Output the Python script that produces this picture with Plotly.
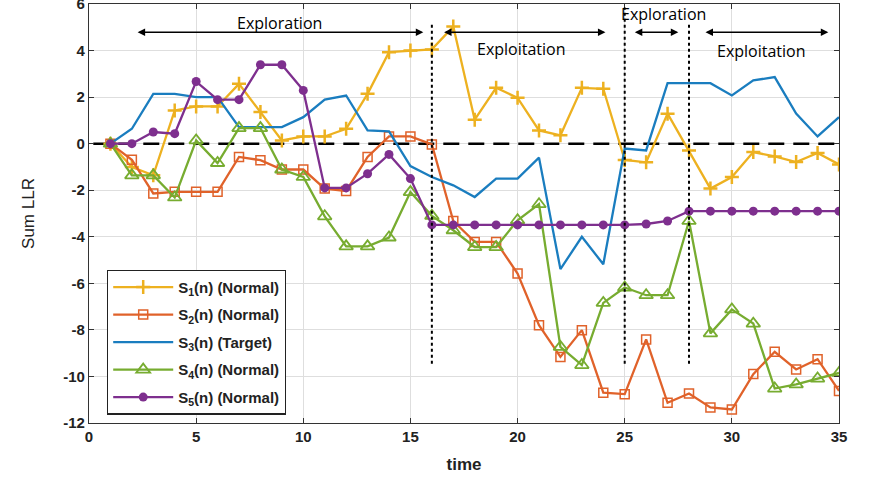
import plotly.graph_objects as go

t = list(range(1, 36))

s1 = [0, -1.0, -1.36, 1.43, 1.6, 1.6, 2.57, 1.36, 0.14, 0.31, 0.31, 0.64, 2.14, 3.93, 4.0, 4.05, 5.03,
      1.03, 2.4, 1.97, 0.57, 0.36, 2.4, 2.36, -0.7, -0.8, 1.29, -0.29, -1.93, -1.43, -0.36, -0.55, -0.79, -0.4, -0.89]
s2 = [0, -0.69, -2.14, -2.07, -2.07, -2.07, -0.57, -0.71, -1.11, -1.11, -1.93, -2.03, -0.57, 0.31, 0.31, -0.03,
      -3.32, -4.22, -4.22, -5.58, -7.8, -9.16, -8.01, -10.7, -10.76, -8.41, -11.13, -10.73, -11.33, -11.42, -9.9,
      -8.94, -9.7, -9.26, -10.62]
s3 = [0, 0.64, 2.14, 2.14, 2.0, 2.0, 0.71, 0.71, 0.71, 1.14, 1.89, 2.07, 0.57, 0.53, -0.96, -1.43, -1.79,
      -2.29, -1.5, -1.5, -0.6, -5.39, -4.0, -5.18, -0.21, -0.29, 2.6, 2.6, 2.6, 2.07, 2.72, 2.86, 1.29, 0.31, 1.14]
s4 = [0, -1.36, -1.36, -2.31, 0.14, -0.83, 0.67, 0.67, -1.11, -1.43, -3.12, -4.41, -4.41, -4.03, -2.08, -3.1,
      -3.72, -4.44, -4.44, -3.29, -2.6, -8.73, -9.51, -6.84, -6.18, -6.51, -6.51, -3.32, -8.15, -7.12, -7.73,
      -10.52, -10.34, -10.09, -9.85]
s5 = [0, 0, 0.5, 0.43, 2.67, 1.89, 1.89, 3.39, 3.39, 2.29, -1.9, -1.9, -1.29, -0.46, -1.5, -3.49, -3.49,
      -3.49, -3.49, -3.49, -3.49, -3.49, -3.49, -3.49, -3.49, -3.45, -3.32, -2.9, -2.9, -2.9, -2.9, -2.9,
      -2.9, -2.9, -2.9]

names = ["<b>S<sub>1</sub>(n) (Normal)</b>", "<b>S<sub>2</sub>(n) (Normal)</b>", "<b>S<sub>3</sub>(n) (Target)</b>",
         "<b>S<sub>4</sub>(n) (Normal)</b>", "<b>S<sub>5</sub>(n) (Normal)</b>"]
colors = ["#EDB120", "#E0622A", "#1A7DBF", "#77AC30", "#7E2F8E"]

x_ticks = [0, 5, 10, 15, 20, 25, 30, 35]
y_ticks = list(range(-12, 7, 2))

phase_x = [16, 25, 28]
arrows = [(2.2, 15.6), (16.5, 24.1), (25.4, 27.5), (28.7, 34.5)]
labels = [("Exploration", 8.9, 5.2), ("Exploitation", 20.2, 4.08), ("Exploration", 26.8, 5.58), ("Exploitation", 31.4, 4.0)]

fig = go.Figure()

# zero dashed line
fig.add_trace(go.Scatter(x=[0.2, 35], y=[0, 0], mode="lines", showlegend=False,
                         line=dict(color="black", width=2.5, dash="16px,9px"), hoverinfo="skip"))

series = [s1, s2, s3, s4, s5]
markers = [
    dict(symbol="cross-thin-open", size=10, line=dict(width=2.5, color=colors[0]), color=colors[0]),
    dict(symbol="square-open", size=9, line=dict(width=1.5, color=colors[1]), color=colors[1]),
    dict(symbol="circle", size=2, color=colors[2]),
    dict(symbol="triangle-up-open", size=12, line=dict(width=1.8, color=colors[3]), color=colors[3]),
    dict(symbol="circle", size=9, color=colors[4]),
]
for i, (ys, nm) in enumerate(zip(series, names)):
    fig.add_trace(go.Scatter(x=t, y=ys, name=nm, mode="lines+markers" if i != 2 else "lines",
                             line=dict(color=colors[i], width=2.3), marker=markers[i],
                             legendgroup=str(i)))

shapes = []
for px in phase_x:
    shapes.append(dict(type="line", xref="x", yref="y", x0=px, x1=px,
                       y0=-9.45, y1=(5.85 if px == 25 else 5.15),
                       line=dict(color="black", width=2, dash="dot")))

annotations = []
for (a, b) in arrows:
    annotations.append(dict(x=b, y=4.79, ax=a, ay=4.79, xref="x", yref="y", axref="x", ayref="y",
                            showarrow=True, arrowhead=2, arrowside="end+start", arrowwidth=1.5,
                            arrowsize=1, arrowcolor="black", text="", standoff=0, startstandoff=0))
for (txt, lx, ly) in labels:
    annotations.append(dict(x=lx, y=ly, xref="x", yref="y", text=txt, showarrow=False,
                            font=dict(family="Open Sans", size=16, color="black")))

fig.update_layout(
    width=887, height=484,
    margin=dict(l=89, r=48, t=4, b=61),
    paper_bgcolor="white", plot_bgcolor="white",
    shapes=shapes, annotations=annotations,
    legend=dict(x=0.024, y=0.366, xanchor="left", yanchor="top",
                bordercolor="#222222", borderwidth=1.2, bgcolor="white",
                font=dict(family="Liberation Sans", size=15, color="#222222"),
                tracegroupgap=5, itemwidth=60),
    font=dict(family="Liberation Sans"),
)
fig.update_xaxes(range=[0, 35], tickvals=x_ticks, automargin=False,
                 ticktext=["<b>%d</b>" % v for v in x_ticks],
                 showgrid=True, gridcolor="#DEDEDE", gridwidth=1, zeroline=False,
                 showline=True, linecolor="#333333", linewidth=1.2, mirror="ticks",
                 ticks="inside", ticklen=5, tickcolor="#333333", ticklabeloverflow="allow",
                 tickfont=dict(size=15, color="#222222"),
                 title=dict(text="<b>time</b>", font=dict(size=17, color="#222222"), standoff=14))
fig.update_yaxes(range=[-12, 6.001], tickvals=y_ticks, automargin=False,
                 ticktext=["<b>%d</b>" % v for v in y_ticks],
                 showgrid=True, gridcolor="#DEDEDE", gridwidth=1, zeroline=False,
                 showline=True, linecolor="#333333", linewidth=1.2, mirror="ticks",
                 ticks="inside", ticklen=5, tickcolor="#333333", ticklabeloverflow="allow",
                 tickfont=dict(size=15, color="#222222"),
                 title=dict(text="Sum LLR", font=dict(size=17, color="#222222"), standoff=24))

fig.write_html("out.html")
